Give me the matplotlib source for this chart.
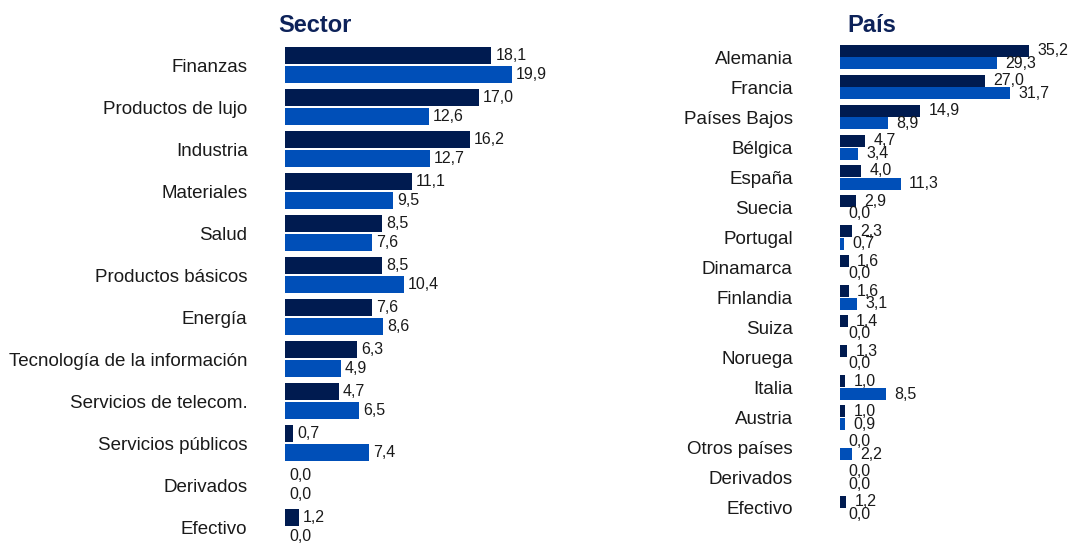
import numpy as np
from matplotlib import pyplot as plt

plt.rcParams['font.family'] = ['Liberation Sans', 'DejaVu Sans']

# Sector data
sectores = ["Finanzas", "Productos de lujo", "Industria", "Materiales", "Salud",
            "Productos básicos", "Energía", "Tecnología de la información",
            "Servicios de telecom.", "Servicios públicos", "Derivados", "Efectivo"]
sector_fondo = [18.1, 17.0, 16.2, 11.1, 8.5, 8.5, 7.6, 6.3, 4.7, 0.7, 0.0, 1.2]
sector_indice = [19.9, 12.6, 12.7, 9.5, 7.6, 10.4, 8.6, 4.9, 6.5, 7.4, 0.0, 0.0]

# País data
paises = ["Alemania", "Francia", "Países Bajos", "Bélgica", "España", "Suecia",
          "Portugal", "Dinamarca", "Finlandia", "Suiza", "Noruega", "Italia",
          "Austria", "Otros países", "Derivados", "Efectivo"]
pais_fondo = [35.2, 27.0, 14.9, 4.7, 4.0, 2.9, 2.3, 1.6, 1.6, 1.4, 1.3, 1.0, 1.0, 0.0, 0.0, 1.2]
pais_indice = [29.3, 31.7, 8.9, 3.4, 11.3, 0.0, 0.7, 0.0, 3.1, 0.0, 0.0, 8.5, 0.9, 2.2, 0.0, 0.0]

DARK = '#001b50'
BLUE = '#004fb8'
TEXT = '#1a1a1a'

W, H = 1071, 545
fig = plt.figure(figsize=(W / 100, H / 100), dpi=100)


def draw_panel(ax, labels, v1, v2, offset, height, xmax, ylim, label_pad, val_pad):
    y = np.arange(len(labels))
    b1 = ax.barh(y - offset, v1, height=height, color=DARK)
    b2 = ax.barh(y + offset, v2, height=height, color=BLUE)
    for bars, vals in ((b1, v1), (b2, v2)):
        for bar, v in zip(bars, vals):
            ax.annotate(f"{v:.1f}".replace('.', ','),
                        (v, bar.get_y() + bar.get_height() / 2),
                        xytext=(val_pad, 0), textcoords='offset points',
                        ha='left', va='center', fontsize=11.5, color=TEXT)
    ax.set_xlim(0, xmax)
    ax.set_ylim(*ylim)
    ax.set_yticks(y)
    ax.set_yticklabels(labels, fontsize=13.5, color=TEXT)
    ax.tick_params(axis='y', length=0, pad=label_pad)
    ax.set_xticks([])
    for s in ax.spines.values():
        s.set_visible(False)


# Sector panel: left 285px, 11.4 px per unit, 42 px per row
ax1 = fig.add_axes([285 / W, 1 / H, 270 / W, 504 / H])
draw_panel(ax1, sectores, sector_fondo, sector_indice, 0.226, 0.405,
           270 / 11.4, (11.4, -0.6), 27, 3)

# País panel: left 840px, 5.37 px per unit, 30 px per row
ax2 = fig.add_axes([840 / W, 22 / H, 225 / W, 484 / H])
draw_panel(ax2, paises, pais_fondo, pais_indice, 0.21, 0.4,
           225 / 5.37, (15.5, -0.6), 34, 6)

fig.text(315 / W, 1 - 25 / H, "Sector", fontsize=17, fontweight='bold',
         color='#0d2259', ha='center', va='center')
fig.text(872 / W, 1 - 25 / H, "País", fontsize=17, fontweight='bold',
         color='#0d2259', ha='center', va='center')

fig.savefig("out.png", dpi=100)
